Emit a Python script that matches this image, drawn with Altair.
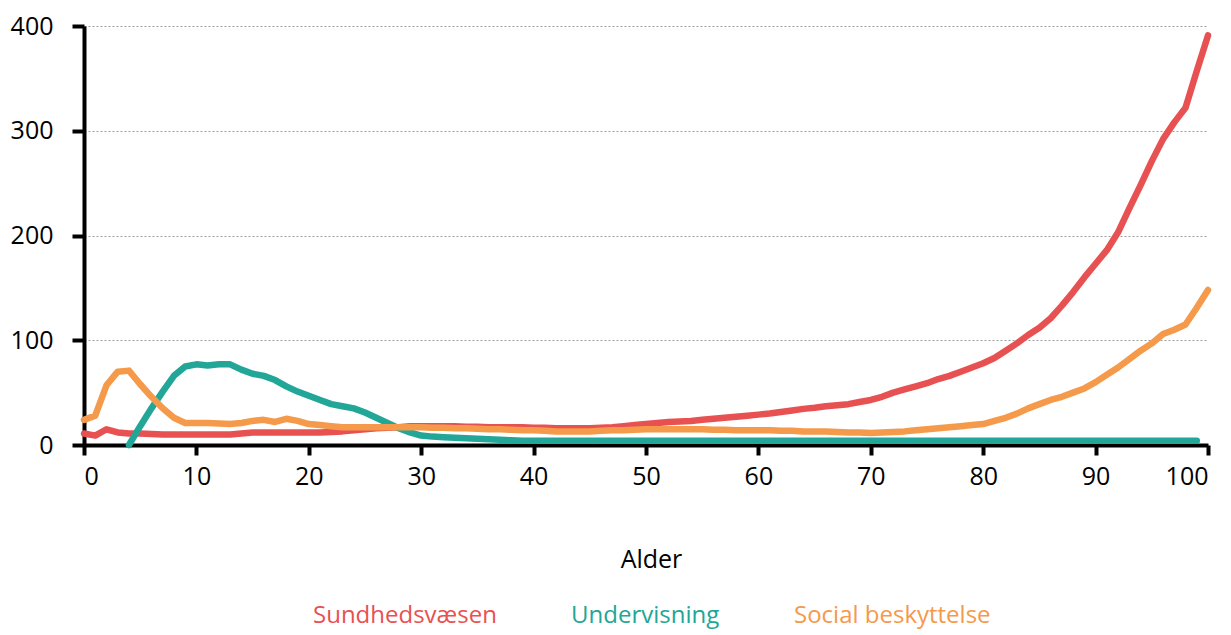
import altair as alt
import pandas as pd

ages = list(range(0, 101))

sundhed = [11, 9, 15, 12, 11, 11, 10.5, 10, 10, 10,
           10, 10, 10, 10, 11, 12, 12, 12, 12, 12,
           12, 12, 12.5, 13, 14, 15, 16, 16.5, 17, 18,
           18, 18, 18, 18, 17.5, 17.5, 17, 17, 17, 17,
           16.5, 16.5, 16, 16, 16, 16, 16.5, 17, 18, 19,
           20, 21, 22, 22.5, 23, 24, 25, 26, 27, 28,
           29, 30, 31.5, 33, 34.5, 35.5, 37, 38, 39, 41,
           43, 46, 50, 53, 56, 59, 63, 66, 70, 74,
           78, 83, 90, 97, 105, 112, 121, 133, 146, 160,
           173, 186, 203, 226, 248, 271, 292, 308, 322, 357,
           391]

undervisning = [None, None, None, None, 0, 18, 35, 51, 66, 75,
                77, 76, 77, 77, 72, 68, 66, 62, 56, 51,
                47, 43, 39, 37, 35, 31, 26, 21, 16, 12,
                9, 8, 7.5, 7, 6.5, 6, 5.5, 5, 4.5, 4,
                4, 4, 4, 4, 4, 4, 4, 4, 4, 4,
                4, 4, 4, 4, 4, 4, 4, 4, 4, 4,
                4, 4, 4, 4, 4, 4, 4, 4, 4, 4,
                4, 4, 4, 4, 4, 4, 4, 4, 4, 4,
                4, 4, 4, 4, 4, 4, 4, 4, 4, 4,
                4, 4, 4, 4, 4, 4, 4, 4, 4, 4,
                None]

social = [24, 28, 57, 70, 71, 58, 46, 35, 26, 21,
          21, 21, 20.5, 20, 21, 23, 24, 22, 25, 23,
          20, 19, 18, 17, 17, 17, 17, 17, 17, 17,
          17, 16.5, 16.5, 16, 16, 15.5, 15, 15, 14.5, 14,
          14, 13.5, 13, 13, 13, 13, 13.5, 14, 14, 14.5,
          15, 15, 15, 15, 15, 15, 14.5, 14.5, 14, 14,
          14, 14, 13.5, 13.5, 13, 13, 13, 12.5, 12, 12,
          11.5, 12, 12.5, 13, 14, 15, 16, 17, 18, 19,
          20, 23, 26, 30, 35, 39, 43, 46, 50, 54,
          60, 67, 74, 82, 90, 97, 106, 110, 115, 131,
          148]

series_names = ["Sundhedsvæsen", "Undervisning", "Social beskyttelse"]
series_colors = ["#E85151", "#21A697", "#F5994B"]

rows = []
for name, vals in zip(series_names, [sundhed, undervisning, social]):
    for a, v in zip(ages, vals):
        if v is not None:
            rows.append({"Alder": a, "Værdi": v, "Område": name})
df = pd.DataFrame(rows)

FONT = "Open Sans"

label_color_expr = (
    f"datum.value == '{series_names[0]}' ? '{series_colors[0]}' : "
    f"datum.value == '{series_names[1]}' ? '{series_colors[1]}' : '{series_colors[2]}'"
)

chart = alt.Chart(df).mark_line(strokeWidth=6.5, strokeCap="round", strokeJoin="round").encode(
    x=alt.X("Alder:Q",
            scale=alt.Scale(domain=[0, 100], nice=False),
            axis=alt.Axis(values=list(range(0, 101, 10)), title="Alder",
                          grid=False, labelPadding=9, tickSize=10,
                          titlePadding=58, titleX=567)),
    y=alt.Y("Værdi:Q",
            scale=alt.Scale(domain=[0, 400], nice=False),
            axis=alt.Axis(values=[0, 100, 200, 300, 400], title=None,
                          grid=True, gridDash=[2, 2], gridColor="#9a9a9a",
                          gridWidth=1, tickSize=12, labelPadding=19)),
    color=alt.Color("Område:N",
                    scale=alt.Scale(domain=series_names, range=series_colors),
                    legend=alt.Legend(title=None, orient="none", direction="horizontal",
                                      legendX=205, legendY=578,
                                      symbolSize=0, symbolStrokeWidth=0, symbolOpacity=0,
                                      labelFontSize=24, labelFont=FONT, labelOffset=0,
                                      labelLimit=400, columnPadding=50,
                                      labelColor=alt.ExprRef(label_color_expr))),
    order=alt.Order("Alder:Q"),
).properties(
    width=1124,
    height=419,
    padding={"left": 2, "top": 6, "right": 8, "bottom": 20},
).configure_view(
    stroke=None
).configure_axis(
    domainColor="black", domainWidth=4, tickColor="black", tickWidth=4,
    labelColor="black", labelFontSize=25, labelFont=FONT,
    titleColor="black", titleFontSize=25, titleFont=FONT, titleFontWeight="normal",
)

chart.save("out.html", embed_options={"renderer": "svg", "actions": False})
